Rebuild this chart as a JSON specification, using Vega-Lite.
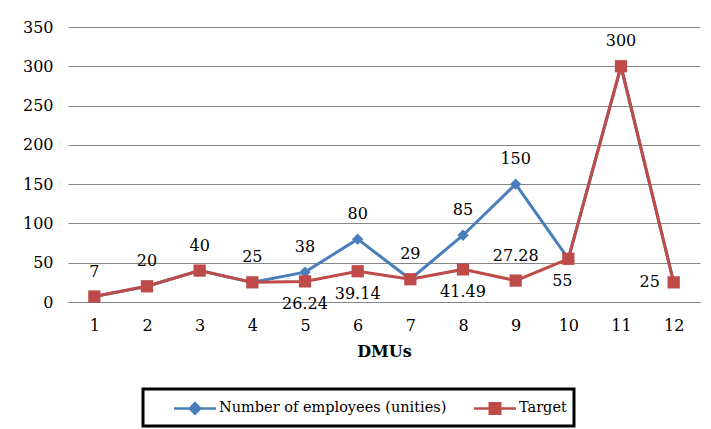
{
  "$schema": "https://vega.github.io/schema/vega-lite/v6.json",
  "width": 632,
  "height": 275,
  "autosize": "none",
  "padding": {"left": 68, "top": 27, "right": 11, "bottom": 127},
  "background": "white",
  "config": {
    "font": "DejaVu Serif",
    "view": {"stroke": null},
    "text": {"font": "DejaVu Serif"},
    "axis": {"labelFont": "DejaVu Serif", "labelFontSize": 16, "labelColor": "black", "titleFont": "DejaVu Serif", "titleColor": "black"},
    "legend": {"labelFont": "DejaVu Serif"}
  },
  "data": {
    "values": [
      {"dmu": 1, "series": "Number of employees (unities)", "value": 7},
      {"dmu": 2, "series": "Number of employees (unities)", "value": 20},
      {"dmu": 3, "series": "Number of employees (unities)", "value": 40},
      {"dmu": 4, "series": "Number of employees (unities)", "value": 25},
      {"dmu": 5, "series": "Number of employees (unities)", "value": 38},
      {"dmu": 6, "series": "Number of employees (unities)", "value": 80},
      {"dmu": 7, "series": "Number of employees (unities)", "value": 29},
      {"dmu": 8, "series": "Number of employees (unities)", "value": 85},
      {"dmu": 9, "series": "Number of employees (unities)", "value": 150},
      {"dmu": 10, "series": "Number of employees (unities)", "value": 55},
      {"dmu": 11, "series": "Number of employees (unities)", "value": 300},
      {"dmu": 12, "series": "Number of employees (unities)", "value": 25},
      {"dmu": 1, "series": "Target", "value": 7},
      {"dmu": 2, "series": "Target", "value": 20},
      {"dmu": 3, "series": "Target", "value": 40},
      {"dmu": 4, "series": "Target", "value": 25},
      {"dmu": 5, "series": "Target", "value": 26.24},
      {"dmu": 6, "series": "Target", "value": 39.14},
      {"dmu": 7, "series": "Target", "value": 29},
      {"dmu": 8, "series": "Target", "value": 41.49},
      {"dmu": 9, "series": "Target", "value": 27.28},
      {"dmu": 10, "series": "Target", "value": 55},
      {"dmu": 11, "series": "Target", "value": 300},
      {"dmu": 12, "series": "Target", "value": 25}
    ]
  },
  "encoding": {
    "x": {
      "field": "dmu", "type": "ordinal",
      "scale": {"type": "point", "padding": 0.5},
      "axis": {"labelAngle": 0, "ticks": false, "domain": true, "domainColor": "#868686", "domainWidth": 1, "labelPadding": 15, "title": "DMUs", "titleFontSize": 16, "titleFontWeight": "bold", "titlePadding": 10, "grid": false}
    },
    "y": {
      "field": "value", "type": "quantitative",
      "scale": {"domain": [0, 350]},
      "axis": {"values": [0, 50, 100, 150, 200, 250, 300, 350], "title": null, "domain": false, "ticks": false, "labelPadding": 15, "gridColor": "#868686", "gridWidth": 1}
    }
  },
  "layer": [
    {
      "mark": {"type": "line", "strokeWidth": 3},
      "encoding": {
        "color": {
          "field": "series", "type": "nominal",
          "scale": {"domain": ["Number of employees (unities)", "Target"], "range": ["#4A7EBB", "#BE4B48"]},
          "legend": {
            "title": null,
            "orient": "none",
            "legendX": 75,
            "legendY": 362,
            "direction": "horizontal",
            "strokeColor": "black",
            "padding": 7,
            "symbolOffset": 33,
            "symbolSize": 441,
            "symbolStrokeWidth": 2.5,
            "labelFontSize": 14.5,
            "labelColor": "black",
            "labelOffset": 12,
            "labelLimit": 400,
            "columnPadding": 3,
            "encode": {
              "legend": {"update": {"strokeWidth": {"value": 3}, "width": {"value": 431}}},
              "symbols": {"update": {
                "fill": {"scale": "color", "field": "value"},
                "stroke": {"scale": "color", "field": "value"},
                "strokeWidth": {"value": 2.5},
                "shape": {"signal": "datum.value === 'Target' ? 'M-2,0L2,0M-0.5,-0.5L0.5,-0.5L0.5,0.5L-0.5,0.5Z' : 'M-2,0L2,0M0,-0.5L0.5,0L0,0.5L-0.5,0Z'"}
              }}
            }
          }
        },
        "detail": {"field": "series"}
      }
    },
    {
      "transform": [{"filter": "datum.series !== 'Target'"}],
      "mark": {"type": "point", "filled": true, "opacity": 1, "shape": "diamond", "size": 130, "color": "#4A7EBB"}
    },
    {
      "transform": [{"filter": "datum.series === 'Target'"}],
      "mark": {"type": "point", "filled": true, "opacity": 1, "shape": "square", "size": 150, "color": "#BE4B48"}
    },
    {
      "transform": [{"filter": "(datum.series !== 'Target' && datum.dmu <= 9) || (datum.series === 'Target' && (datum.dmu === 9 || datum.dmu === 11))"}],
      "mark": {"type": "text", "baseline": "middle", "align": "center", "dy": -25, "fontSize": 16, "color": "black", "font": "DejaVu Serif"},
      "encoding": {"text": {"field": "value", "type": "nominal"}}
    },
    {
      "transform": [{"filter": "datum.series === 'Target' && (datum.dmu === 5 || datum.dmu === 6 || datum.dmu === 8)"}],
      "mark": {"type": "text", "baseline": "middle", "align": "center", "dy": 23, "fontSize": 16, "color": "black", "font": "DejaVu Serif"},
      "encoding": {"text": {"field": "value", "type": "nominal"}}
    },
    {
      "transform": [{"filter": "datum.series === 'Target' && datum.dmu === 10"}],
      "mark": {"type": "text", "baseline": "middle", "align": "center", "dy": 22, "dx": -6, "fontSize": 16, "color": "black", "font": "DejaVu Serif"},
      "encoding": {"text": {"field": "value", "type": "nominal"}}
    },
    {
      "transform": [{"filter": "datum.series === 'Target' && datum.dmu === 12"}],
      "mark": {"type": "text", "baseline": "middle", "align": "center", "dx": -24, "fontSize": 16, "color": "black", "font": "DejaVu Serif"},
      "encoding": {"text": {"field": "value", "type": "nominal"}}
    }
  ]
}
